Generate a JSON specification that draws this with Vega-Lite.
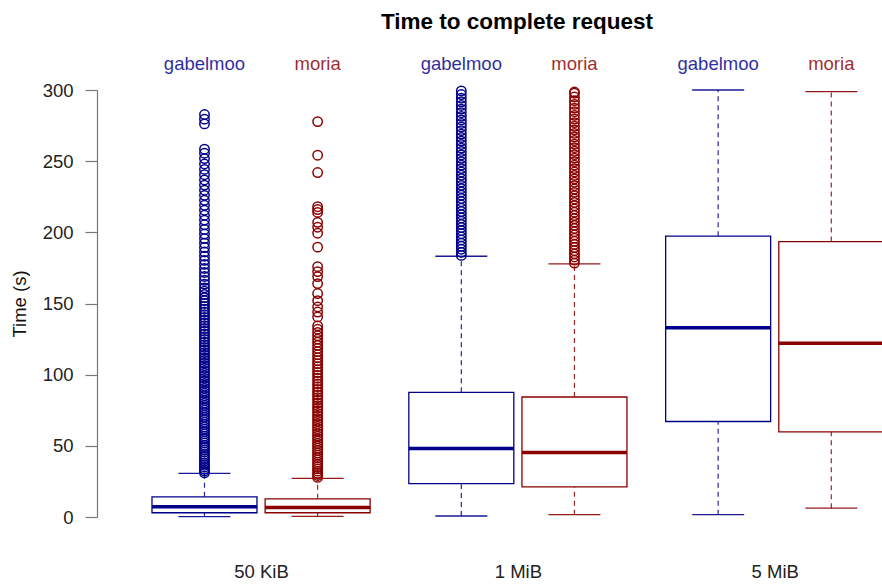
{
  "$schema": "https://vega.github.io/schema/vega-lite/v6.json",
  "width": 785,
  "height": 427,
  "autosize": {"type": "none"},
  "padding": {"left": 97, "top": 90, "right": 0, "bottom": 69},
  "background": "white",
  "title": {
    "text": "Time to complete request",
    "font": "Liberation Sans",
    "fontSize": 22.5,
    "fontWeight": "bold",
    "color": "black",
    "anchor": "middle",
    "frame": "group",
    "baseline": "alphabetic",
    "offset": 4,
    "dx": 27.5
  },
  "config": {
    "view": {"stroke": null},
    "font": "Liberation Sans",
    "axisX": {
      "domain": false, "ticks": false, "tickSize": 0, "grid": false,
      "labelPadding": 60, "labelBaseline": "alphabetic",
      "labelFont": "Liberation Sans", "labelFontSize": 18.5, "labelColor": "#222222",
      "labelFlush": false, "labelOverlap": false
    },
    "axisY": {
      "grid": false, "labelOverlap": false,
      "domainColor": "#777777", "tickColor": "#777777", "domainWidth": 1.2, "tickWidth": 1.2,
      "tickSize": 12, "labelPadding": 12,
      "labelFont": "Liberation Sans", "labelFontSize": 18.5, "labelColor": "#222222",
      "titleFont": "Liberation Sans", "titleFontSize": 18.5, "titleFontWeight": "normal",
      "titleColor": "#111111", "titlePadding": 13
    }
  },
  "datasets": {
    "boxes": [
      {"size": "50 KiB", "server": "gabelmoo", "pos": 1, "lower": 0.3, "q1": 3.0, "median": 7.2, "q3": 14.2, "upper": 30.6},
      {"size": "50 KiB", "server": "moria", "pos": 2, "lower": 0.4, "q1": 3.0, "median": 6.6, "q3": 12.8, "upper": 27.1},
      {"size": "1 MiB", "server": "gabelmoo", "pos": 3.27, "lower": 0.7, "q1": 23.4, "median": 48.2, "q3": 87.6, "upper": 183.2},
      {"size": "1 MiB", "server": "moria", "pos": 4.27, "lower": 1.6, "q1": 21.2, "median": 45.3, "q3": 84.3, "upper": 177.8},
      {"size": "5 MiB", "server": "gabelmoo", "pos": 5.54, "lower": 1.6, "q1": 67.1, "median": 133, "q3": 197.3, "upper": 300},
      {"size": "5 MiB", "server": "moria", "pos": 6.54, "lower": 6.2, "q1": 59.8, "median": 122, "q3": 193.5, "upper": 298.8}
    ],
    "outliers": [
      {"server": "gabelmoo", "pos": 1, "time": 31},
      {"server": "gabelmoo", "pos": 1, "time": 32.2},
      {"server": "gabelmoo", "pos": 1, "time": 33.5},
      {"server": "gabelmoo", "pos": 1, "time": 35},
      {"server": "gabelmoo", "pos": 1, "time": 36.4},
      {"server": "gabelmoo", "pos": 1, "time": 38},
      {"server": "gabelmoo", "pos": 1, "time": 39.5},
      {"server": "gabelmoo", "pos": 1, "time": 41},
      {"server": "gabelmoo", "pos": 1, "time": 42.6},
      {"server": "gabelmoo", "pos": 1, "time": 44},
      {"server": "gabelmoo", "pos": 1, "time": 45.7},
      {"server": "gabelmoo", "pos": 1, "time": 47.2},
      {"server": "gabelmoo", "pos": 1, "time": 48.8},
      {"server": "gabelmoo", "pos": 1, "time": 50.3},
      {"server": "gabelmoo", "pos": 1, "time": 52},
      {"server": "gabelmoo", "pos": 1, "time": 53.5},
      {"server": "gabelmoo", "pos": 1, "time": 55.1},
      {"server": "gabelmoo", "pos": 1, "time": 56.8},
      {"server": "gabelmoo", "pos": 1, "time": 58.4},
      {"server": "gabelmoo", "pos": 1, "time": 60},
      {"server": "gabelmoo", "pos": 1, "time": 61.7},
      {"server": "gabelmoo", "pos": 1, "time": 63.2},
      {"server": "gabelmoo", "pos": 1, "time": 65},
      {"server": "gabelmoo", "pos": 1, "time": 66.6},
      {"server": "gabelmoo", "pos": 1, "time": 68.3},
      {"server": "gabelmoo", "pos": 1, "time": 70},
      {"server": "gabelmoo", "pos": 1, "time": 71.6},
      {"server": "gabelmoo", "pos": 1, "time": 73.3},
      {"server": "gabelmoo", "pos": 1, "time": 75},
      {"server": "gabelmoo", "pos": 1, "time": 76.7},
      {"server": "gabelmoo", "pos": 1, "time": 78.4},
      {"server": "gabelmoo", "pos": 1, "time": 80},
      {"server": "gabelmoo", "pos": 1, "time": 81.8},
      {"server": "gabelmoo", "pos": 1, "time": 83.5},
      {"server": "gabelmoo", "pos": 1, "time": 85.2},
      {"server": "gabelmoo", "pos": 1, "time": 87},
      {"server": "gabelmoo", "pos": 1, "time": 88.6},
      {"server": "gabelmoo", "pos": 1, "time": 90.4},
      {"server": "gabelmoo", "pos": 1, "time": 92.1},
      {"server": "gabelmoo", "pos": 1, "time": 93.9},
      {"server": "gabelmoo", "pos": 1, "time": 95.6},
      {"server": "gabelmoo", "pos": 1, "time": 97.4},
      {"server": "gabelmoo", "pos": 1, "time": 99.2},
      {"server": "gabelmoo", "pos": 1, "time": 101},
      {"server": "gabelmoo", "pos": 1, "time": 102.8},
      {"server": "gabelmoo", "pos": 1, "time": 104.5},
      {"server": "gabelmoo", "pos": 1, "time": 106.3},
      {"server": "gabelmoo", "pos": 1, "time": 108.1},
      {"server": "gabelmoo", "pos": 1, "time": 110},
      {"server": "gabelmoo", "pos": 1, "time": 111.8},
      {"server": "gabelmoo", "pos": 1, "time": 113.6},
      {"server": "gabelmoo", "pos": 1, "time": 115.5},
      {"server": "gabelmoo", "pos": 1, "time": 117.3},
      {"server": "gabelmoo", "pos": 1, "time": 119.2},
      {"server": "gabelmoo", "pos": 1, "time": 121},
      {"server": "gabelmoo", "pos": 1, "time": 122.9},
      {"server": "gabelmoo", "pos": 1, "time": 124.8},
      {"server": "gabelmoo", "pos": 1, "time": 126.7},
      {"server": "gabelmoo", "pos": 1, "time": 128.6},
      {"server": "gabelmoo", "pos": 1, "time": 130.5},
      {"server": "gabelmoo", "pos": 1, "time": 132.4},
      {"server": "gabelmoo", "pos": 1, "time": 134.4},
      {"server": "gabelmoo", "pos": 1, "time": 136.3},
      {"server": "gabelmoo", "pos": 1, "time": 138.2},
      {"server": "gabelmoo", "pos": 1, "time": 140.2},
      {"server": "gabelmoo", "pos": 1, "time": 142.1},
      {"server": "gabelmoo", "pos": 1, "time": 144},
      {"server": "gabelmoo", "pos": 1, "time": 146},
      {"server": "gabelmoo", "pos": 1, "time": 148},
      {"server": "gabelmoo", "pos": 1, "time": 150},
      {"server": "gabelmoo", "pos": 1, "time": 152},
      {"server": "gabelmoo", "pos": 1, "time": 154.1},
      {"server": "gabelmoo", "pos": 1, "time": 156.3},
      {"server": "gabelmoo", "pos": 1, "time": 158.7},
      {"server": "gabelmoo", "pos": 1, "time": 161},
      {"server": "gabelmoo", "pos": 1, "time": 163.6},
      {"server": "gabelmoo", "pos": 1, "time": 166.3},
      {"server": "gabelmoo", "pos": 1, "time": 169},
      {"server": "gabelmoo", "pos": 1, "time": 171.8},
      {"server": "gabelmoo", "pos": 1, "time": 174.6},
      {"server": "gabelmoo", "pos": 1, "time": 177.5},
      {"server": "gabelmoo", "pos": 1, "time": 180.3},
      {"server": "gabelmoo", "pos": 1, "time": 183.2},
      {"server": "gabelmoo", "pos": 1, "time": 186.2},
      {"server": "gabelmoo", "pos": 1, "time": 189.3},
      {"server": "gabelmoo", "pos": 1, "time": 192.4},
      {"server": "gabelmoo", "pos": 1, "time": 195.6},
      {"server": "gabelmoo", "pos": 1, "time": 198.8},
      {"server": "gabelmoo", "pos": 1, "time": 202},
      {"server": "gabelmoo", "pos": 1, "time": 205.3},
      {"server": "gabelmoo", "pos": 1, "time": 208.6},
      {"server": "gabelmoo", "pos": 1, "time": 212},
      {"server": "gabelmoo", "pos": 1, "time": 215.5},
      {"server": "gabelmoo", "pos": 1, "time": 219},
      {"server": "gabelmoo", "pos": 1, "time": 222.5},
      {"server": "gabelmoo", "pos": 1, "time": 226},
      {"server": "gabelmoo", "pos": 1, "time": 229.6},
      {"server": "gabelmoo", "pos": 1, "time": 233.2},
      {"server": "gabelmoo", "pos": 1, "time": 236.8},
      {"server": "gabelmoo", "pos": 1, "time": 240.5},
      {"server": "gabelmoo", "pos": 1, "time": 244.2},
      {"server": "gabelmoo", "pos": 1, "time": 248},
      {"server": "gabelmoo", "pos": 1, "time": 251.8},
      {"server": "gabelmoo", "pos": 1, "time": 255.6},
      {"server": "gabelmoo", "pos": 1, "time": 258.4},
      {"server": "gabelmoo", "pos": 1, "time": 276.2},
      {"server": "gabelmoo", "pos": 1, "time": 279.5},
      {"server": "gabelmoo", "pos": 1, "time": 282.8},
      {"server": "moria", "pos": 2, "time": 27.8},
      {"server": "moria", "pos": 2, "time": 29.2},
      {"server": "moria", "pos": 2, "time": 30.7},
      {"server": "moria", "pos": 2, "time": 32.2},
      {"server": "moria", "pos": 2, "time": 33.8},
      {"server": "moria", "pos": 2, "time": 35.3},
      {"server": "moria", "pos": 2, "time": 36.9},
      {"server": "moria", "pos": 2, "time": 38.5},
      {"server": "moria", "pos": 2, "time": 40.1},
      {"server": "moria", "pos": 2, "time": 41.7},
      {"server": "moria", "pos": 2, "time": 43.4},
      {"server": "moria", "pos": 2, "time": 45},
      {"server": "moria", "pos": 2, "time": 46.7},
      {"server": "moria", "pos": 2, "time": 48.3},
      {"server": "moria", "pos": 2, "time": 50},
      {"server": "moria", "pos": 2, "time": 51.7},
      {"server": "moria", "pos": 2, "time": 53.4},
      {"server": "moria", "pos": 2, "time": 55.1},
      {"server": "moria", "pos": 2, "time": 56.8},
      {"server": "moria", "pos": 2, "time": 58.5},
      {"server": "moria", "pos": 2, "time": 60.3},
      {"server": "moria", "pos": 2, "time": 62},
      {"server": "moria", "pos": 2, "time": 63.8},
      {"server": "moria", "pos": 2, "time": 65.5},
      {"server": "moria", "pos": 2, "time": 67.3},
      {"server": "moria", "pos": 2, "time": 69.1},
      {"server": "moria", "pos": 2, "time": 70.9},
      {"server": "moria", "pos": 2, "time": 72.7},
      {"server": "moria", "pos": 2, "time": 74.5},
      {"server": "moria", "pos": 2, "time": 76.4},
      {"server": "moria", "pos": 2, "time": 78.2},
      {"server": "moria", "pos": 2, "time": 80.1},
      {"server": "moria", "pos": 2, "time": 82},
      {"server": "moria", "pos": 2, "time": 83.9},
      {"server": "moria", "pos": 2, "time": 85.8},
      {"server": "moria", "pos": 2, "time": 87.7},
      {"server": "moria", "pos": 2, "time": 89.6},
      {"server": "moria", "pos": 2, "time": 91.6},
      {"server": "moria", "pos": 2, "time": 93.5},
      {"server": "moria", "pos": 2, "time": 95.5},
      {"server": "moria", "pos": 2, "time": 97.5},
      {"server": "moria", "pos": 2, "time": 99.5},
      {"server": "moria", "pos": 2, "time": 101.5},
      {"server": "moria", "pos": 2, "time": 103.5},
      {"server": "moria", "pos": 2, "time": 105.6},
      {"server": "moria", "pos": 2, "time": 107.7},
      {"server": "moria", "pos": 2, "time": 109.8},
      {"server": "moria", "pos": 2, "time": 111.9},
      {"server": "moria", "pos": 2, "time": 114},
      {"server": "moria", "pos": 2, "time": 116.2},
      {"server": "moria", "pos": 2, "time": 118.4},
      {"server": "moria", "pos": 2, "time": 120.6},
      {"server": "moria", "pos": 2, "time": 122.8},
      {"server": "moria", "pos": 2, "time": 125},
      {"server": "moria", "pos": 2, "time": 127.3},
      {"server": "moria", "pos": 2, "time": 129.6},
      {"server": "moria", "pos": 2, "time": 131.9},
      {"server": "moria", "pos": 2, "time": 134.3},
      {"server": "moria", "pos": 2, "time": 140.6},
      {"server": "moria", "pos": 2, "time": 144},
      {"server": "moria", "pos": 2, "time": 147.6},
      {"server": "moria", "pos": 2, "time": 152},
      {"server": "moria", "pos": 2, "time": 157},
      {"server": "moria", "pos": 2, "time": 164},
      {"server": "moria", "pos": 2, "time": 168.9},
      {"server": "moria", "pos": 2, "time": 172.4},
      {"server": "moria", "pos": 2, "time": 175.9},
      {"server": "moria", "pos": 2, "time": 189.6},
      {"server": "moria", "pos": 2, "time": 199.4},
      {"server": "moria", "pos": 2, "time": 203.6},
      {"server": "moria", "pos": 2, "time": 207},
      {"server": "moria", "pos": 2, "time": 214},
      {"server": "moria", "pos": 2, "time": 216},
      {"server": "moria", "pos": 2, "time": 218},
      {"server": "moria", "pos": 2, "time": 242},
      {"server": "moria", "pos": 2, "time": 254.2},
      {"server": "moria", "pos": 2, "time": 277.8},
      {"server": "gabelmoo", "pos": 3.27, "time": 183.8},
      {"server": "gabelmoo", "pos": 3.27, "time": 185.9},
      {"server": "gabelmoo", "pos": 3.27, "time": 188.1},
      {"server": "gabelmoo", "pos": 3.27, "time": 190.2},
      {"server": "gabelmoo", "pos": 3.27, "time": 192.4},
      {"server": "gabelmoo", "pos": 3.27, "time": 194.6},
      {"server": "gabelmoo", "pos": 3.27, "time": 196.8},
      {"server": "gabelmoo", "pos": 3.27, "time": 199},
      {"server": "gabelmoo", "pos": 3.27, "time": 201.2},
      {"server": "gabelmoo", "pos": 3.27, "time": 203.4},
      {"server": "gabelmoo", "pos": 3.27, "time": 205.6},
      {"server": "gabelmoo", "pos": 3.27, "time": 207.9},
      {"server": "gabelmoo", "pos": 3.27, "time": 210.1},
      {"server": "gabelmoo", "pos": 3.27, "time": 212.4},
      {"server": "gabelmoo", "pos": 3.27, "time": 214.6},
      {"server": "gabelmoo", "pos": 3.27, "time": 216.9},
      {"server": "gabelmoo", "pos": 3.27, "time": 219.2},
      {"server": "gabelmoo", "pos": 3.27, "time": 221.5},
      {"server": "gabelmoo", "pos": 3.27, "time": 223.8},
      {"server": "gabelmoo", "pos": 3.27, "time": 226.1},
      {"server": "gabelmoo", "pos": 3.27, "time": 228.4},
      {"server": "gabelmoo", "pos": 3.27, "time": 230.7},
      {"server": "gabelmoo", "pos": 3.27, "time": 233},
      {"server": "gabelmoo", "pos": 3.27, "time": 235.4},
      {"server": "gabelmoo", "pos": 3.27, "time": 237.7},
      {"server": "gabelmoo", "pos": 3.27, "time": 240.1},
      {"server": "gabelmoo", "pos": 3.27, "time": 242.4},
      {"server": "gabelmoo", "pos": 3.27, "time": 244.8},
      {"server": "gabelmoo", "pos": 3.27, "time": 247.2},
      {"server": "gabelmoo", "pos": 3.27, "time": 249.6},
      {"server": "gabelmoo", "pos": 3.27, "time": 252},
      {"server": "gabelmoo", "pos": 3.27, "time": 254.4},
      {"server": "gabelmoo", "pos": 3.27, "time": 256.8},
      {"server": "gabelmoo", "pos": 3.27, "time": 259.2},
      {"server": "gabelmoo", "pos": 3.27, "time": 261.7},
      {"server": "gabelmoo", "pos": 3.27, "time": 264.1},
      {"server": "gabelmoo", "pos": 3.27, "time": 266.6},
      {"server": "gabelmoo", "pos": 3.27, "time": 269},
      {"server": "gabelmoo", "pos": 3.27, "time": 271.5},
      {"server": "gabelmoo", "pos": 3.27, "time": 274},
      {"server": "gabelmoo", "pos": 3.27, "time": 276.5},
      {"server": "gabelmoo", "pos": 3.27, "time": 279},
      {"server": "gabelmoo", "pos": 3.27, "time": 281.5},
      {"server": "gabelmoo", "pos": 3.27, "time": 284},
      {"server": "gabelmoo", "pos": 3.27, "time": 286.6},
      {"server": "gabelmoo", "pos": 3.27, "time": 289.1},
      {"server": "gabelmoo", "pos": 3.27, "time": 291.7},
      {"server": "gabelmoo", "pos": 3.27, "time": 294.2},
      {"server": "gabelmoo", "pos": 3.27, "time": 296.8},
      {"server": "gabelmoo", "pos": 3.27, "time": 299.4},
      {"server": "moria", "pos": 4.27, "time": 178.4},
      {"server": "moria", "pos": 4.27, "time": 180.5},
      {"server": "moria", "pos": 4.27, "time": 182.7},
      {"server": "moria", "pos": 4.27, "time": 184.9},
      {"server": "moria", "pos": 4.27, "time": 187.1},
      {"server": "moria", "pos": 4.27, "time": 189.3},
      {"server": "moria", "pos": 4.27, "time": 191.5},
      {"server": "moria", "pos": 4.27, "time": 193.7},
      {"server": "moria", "pos": 4.27, "time": 195.9},
      {"server": "moria", "pos": 4.27, "time": 198.2},
      {"server": "moria", "pos": 4.27, "time": 200.4},
      {"server": "moria", "pos": 4.27, "time": 202.7},
      {"server": "moria", "pos": 4.27, "time": 204.9},
      {"server": "moria", "pos": 4.27, "time": 207.2},
      {"server": "moria", "pos": 4.27, "time": 209.5},
      {"server": "moria", "pos": 4.27, "time": 211.8},
      {"server": "moria", "pos": 4.27, "time": 214.1},
      {"server": "moria", "pos": 4.27, "time": 216.4},
      {"server": "moria", "pos": 4.27, "time": 218.7},
      {"server": "moria", "pos": 4.27, "time": 221},
      {"server": "moria", "pos": 4.27, "time": 223.4},
      {"server": "moria", "pos": 4.27, "time": 225.7},
      {"server": "moria", "pos": 4.27, "time": 228.1},
      {"server": "moria", "pos": 4.27, "time": 230.4},
      {"server": "moria", "pos": 4.27, "time": 232.8},
      {"server": "moria", "pos": 4.27, "time": 235.2},
      {"server": "moria", "pos": 4.27, "time": 237.6},
      {"server": "moria", "pos": 4.27, "time": 240},
      {"server": "moria", "pos": 4.27, "time": 242.4},
      {"server": "moria", "pos": 4.27, "time": 244.8},
      {"server": "moria", "pos": 4.27, "time": 247.2},
      {"server": "moria", "pos": 4.27, "time": 249.7},
      {"server": "moria", "pos": 4.27, "time": 252.1},
      {"server": "moria", "pos": 4.27, "time": 254.6},
      {"server": "moria", "pos": 4.27, "time": 257},
      {"server": "moria", "pos": 4.27, "time": 259.5},
      {"server": "moria", "pos": 4.27, "time": 262},
      {"server": "moria", "pos": 4.27, "time": 264.5},
      {"server": "moria", "pos": 4.27, "time": 267},
      {"server": "moria", "pos": 4.27, "time": 269.5},
      {"server": "moria", "pos": 4.27, "time": 272},
      {"server": "moria", "pos": 4.27, "time": 274.5},
      {"server": "moria", "pos": 4.27, "time": 277.1},
      {"server": "moria", "pos": 4.27, "time": 279.6},
      {"server": "moria", "pos": 4.27, "time": 282.2},
      {"server": "moria", "pos": 4.27, "time": 284.7},
      {"server": "moria", "pos": 4.27, "time": 287.3},
      {"server": "moria", "pos": 4.27, "time": 289.9},
      {"server": "moria", "pos": 4.27, "time": 292.5},
      {"server": "moria", "pos": 4.27, "time": 295.1},
      {"server": "moria", "pos": 4.27, "time": 297.7},
      {"server": "moria", "pos": 4.27, "time": 298.6}
    ]
  },
  "data": {"name": "boxes"},
  "encoding": {
    "x": {
      "field": "pos", "type": "quantitative",
      "scale": {"domain": [0.0942, 6.944], "nice": false, "zero": false},
      "axis": {
        "values": [1.5, 3.77, 6.04],
        "labelExpr": "datum.value < 2 ? '50 KiB' : (datum.value < 5 ? '1 MiB' : '5 MiB')",
        "title": null
      }
    },
    "color": {"field": "server", "type": "nominal", "scale": {"domain": ["gabelmoo", "moria"], "range": ["#00008B", "#8B0000"]}, "legend": null}
  },
  "layer": [
    {
      "mark": {"type": "rule", "strokeDash": [5, 4], "strokeWidth": 1.2, "opacity": 0.85},
      "encoding": {
        "y": {
          "field": "lower", "type": "quantitative",
          "scale": {"domain": [0, 300], "nice": false, "zero": false},
          "title": "Time (s)",
          "axis": {"values": [0, 50, 100, 150, 200, 250, 300], "tickCount": 7, "title": "Time (s)"}
        },
        "y2": {"field": "q1"}
      }
    },
    {
      "mark": {"type": "rule", "strokeDash": [5, 4], "strokeWidth": 1.2, "opacity": 0.85},
      "encoding": {
        "y": {"field": "q3", "type": "quantitative", "title": "Time (s)"},
        "y2": {"field": "upper"}
      }
    },
    {
      "mark": {"type": "tick", "orient": "horizontal", "size": 52, "thickness": 1.3, "opacity": 0.9},
      "encoding": {
        "y": {"field": "lower", "type": "quantitative", "title": "Time (s)"}
      }
    },
    {
      "mark": {"type": "tick", "orient": "horizontal", "size": 52, "thickness": 1.3, "opacity": 0.9},
      "encoding": {
        "y": {"field": "upper", "type": "quantitative", "title": "Time (s)"}
      }
    },
    {
      "mark": {"type": "bar", "orient": "vertical", "size": 105, "fill": "white", "strokeWidth": 1.3},
      "encoding": {
        "y": {"field": "q1", "type": "quantitative", "title": "Time (s)"},
        "y2": {"field": "q3"},
        "color": {"value": "white"},
        "stroke": {"field": "server", "type": "nominal", "scale": {"domain": ["gabelmoo", "moria"], "range": ["#00008B", "#8B0000"]}, "legend": null}
      }
    },
    {
      "mark": {"type": "tick", "orient": "horizontal", "size": 105, "thickness": 3.5, "opacity": 1},
      "encoding": {
        "y": {"field": "median", "type": "quantitative", "title": "Time (s)"}
      }
    },
    {
      "data": {"name": "outliers"},
      "mark": {"type": "point", "shape": "circle", "filled": false, "size": 88, "strokeWidth": 1.5, "opacity": 1},
      "encoding": {
        "y": {"field": "time", "type": "quantitative", "title": "Time (s)"}
      }
    },
    {
      "mark": {"type": "text", "font": "Liberation Sans", "fontSize": 18.5, "baseline": "alphabetic", "align": "center", "opacity": 0.82},
      "encoding": {
        "y": {"datum": 314, "type": "quantitative", "title": "Time (s)"},
        "text": {"field": "server", "type": "nominal"}
      }
    }
  ]
}
